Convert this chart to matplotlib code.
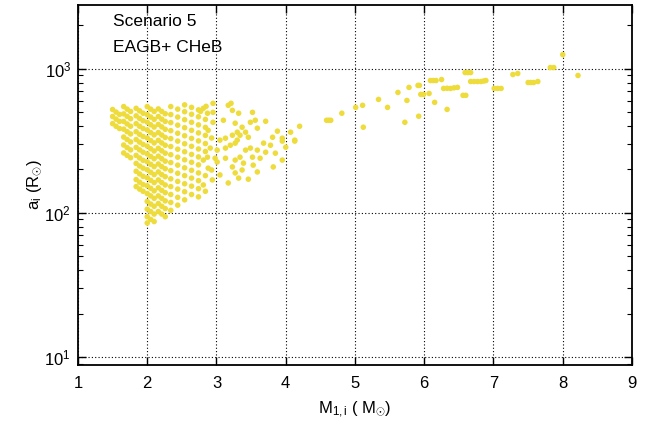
import matplotlib
matplotlib.use("Agg")
import matplotlib.pyplot as plt
from matplotlib.ticker import LogLocator, NullFormatter

plt.rcParams['font.family'] = ['Liberation Sans', 'DejaVu Sans']
plt.rcParams['mathtext.fontset'] = 'custom'
plt.rcParams['mathtext.rm'] = 'Liberation Sans'
plt.rcParams['mathtext.it'] = 'Liberation Sans'

# low-mass part: short streaks of nearly overlapping systems
m_streak = [1.50, 1.55, 1.60, 1.50, 1.55, 1.60, 1.50, 1.55, 1.60,
            1.66, 1.71, 1.76, 1.66, 1.71, 1.76, 1.66, 1.71, 1.76, 1.66, 1.71, 1.76,
            1.66, 1.71, 1.76, 1.66, 1.71, 1.76, 1.66, 1.71, 1.76,
            1.84, 1.89, 1.94, 1.84, 1.89, 1.94, 1.84, 1.89, 1.94, 1.84, 1.89, 1.94,
            1.84, 1.89, 1.94, 1.84, 1.89, 1.94, 1.84, 1.89, 1.94, 1.84, 1.89, 1.94,
            1.84, 1.89, 1.94, 1.84, 1.89, 1.94, 1.84, 1.89, 1.94,
            2.00, 2.05, 2.10, 2.00, 2.05, 2.10, 2.00, 2.05, 2.10, 2.00, 2.05, 2.10,
            2.00, 2.05, 2.10, 2.00, 2.05, 2.10, 2.00, 2.05, 2.10, 2.00, 2.05, 2.10,
            2.00, 2.05, 2.10, 2.00, 2.05, 2.10, 2.00, 2.05, 2.10, 2.00, 2.05, 2.10,
            2.00, 2.05, 2.10, 2.00, 2.05, 2.10, 2.00, 2.05, 2.10, 2.00,
            2.16, 2.21, 2.26, 2.16, 2.21, 2.26, 2.16, 2.21, 2.26, 2.16, 2.21, 2.26,
            2.16, 2.21, 2.26, 2.16, 2.21, 2.26, 2.16, 2.21, 2.26, 2.16, 2.21, 2.26,
            2.16, 2.21, 2.26, 2.16, 2.21, 2.26, 2.16, 2.21, 2.26, 2.16, 2.21, 2.26,
            2.16, 2.21, 2.26, 2.16, 2.21, 2.26]
a_streak = [520, 499, 481, 465, 446, 430, 415, 398, 384,
            545, 523, 504, 485, 466, 449, 430, 413, 398, 380, 365, 352,
            335, 322, 310, 295, 283, 273, 260, 250, 241,
            530, 509, 490, 470, 451, 435, 415, 398, 384, 365, 350, 338,
            322, 309, 298, 284, 273, 263, 250, 240, 231, 220, 211, 204,
            194, 186, 179, 170, 163, 157, 152, 146, 141,
            545, 523, 504, 480, 461, 444, 425, 408, 393, 375, 360, 347,
            330, 317, 305, 290, 278, 268, 256, 246, 237, 226, 217, 209,
            199, 191, 184, 175, 168, 162, 154, 148, 142, 136, 131, 126,
            120, 115, 111, 106, 102, 98, 94, 90, 87, 85,
            525, 504, 486, 465, 446, 430, 410, 394, 379, 360, 346, 333,
            318, 305, 294, 280, 269, 259, 247, 237, 228, 218, 209, 202,
            192, 184, 178, 169, 162, 156, 149, 143, 138, 131, 126, 121,
            116, 111, 107, 102, 98, 94]

# intermediate masses: separate dots
m_mid = [2.34] * 14 + [2.44] * 13 + [2.54] * 13 + [2.64] * 12 + [2.74] * 12
a_mid = [545, 480, 422, 371, 327, 288, 253, 223, 196, 172, 152, 134, 118, 104,
         523, 461, 405, 356, 314, 276, 243, 214, 188, 165, 146, 128, 113,
         560, 502, 442, 389, 342, 301, 265, 233, 205, 181, 159, 140, 123,
         538, 482, 424, 373, 328, 289, 254, 224, 197, 174, 153, 134,
         517, 463, 407, 358, 315, 277, 244, 215, 189, 167, 147, 129]

m_right = [2.81, 2.95, 3.17, 3.23, 3.10, 3.27, 2.95, 2.88, 3.05, 3.13, 3.23, 3.30,
           3.20, 3.27, 3.13, 3.01, 2.91, 2.87, 2.98, 3.13, 3.27, 3.01, 3.23, 3.27,
           3.05, 3.17, 3.32, 2.94, 2.81, 2.88, 2.81,
           3.32, 3.52, 3.37, 3.49, 3.56, 3.71, 3.88, 4.07, 4.20, 4.13, 3.95, 3.81,
           3.78, 3.68, 3.59, 3.46, 3.42, 3.34, 3.30, 3.42, 3.49, 3.59, 3.71, 3.85,
           4.00, 3.95, 3.63, 3.52, 3.34, 3.39, 3.37, 3.53, 3.59, 3.46, 3.82,
           3.21, 2.95, 2.85, 2.77, 2.87, 2.84, 2.84, 2.84, 2.84, 2.84, 2.84, 2.93,
           2.93, 2.84, 3.95, 4.13]
a_right = [530, 497, 556, 513, 438, 418, 424, 373, 319, 329, 345, 362,
           294, 304, 281, 272, 281, 243, 239, 239, 232, 225, 208, 189,
           183, 161, 174, 169, 156, 204, 232,
           490, 497, 392, 424, 438, 431, 368, 362, 398, 319, 329, 334,
           294, 304, 386, 334, 362, 345, 319, 272, 281, 272, 263, 259,
           285, 232, 239, 243, 243, 221, 198, 214, 192, 171, 208,
           574, 574, 547, 505, 490, 444, 391, 344, 302, 266, 181, 330,
           198, 141, 314, 314]

# high-mass tail
m_high = [4.59, 4.62, 4.65, 4.81, 5.01, 5.11, 5.12, 5.34, 5.47, 5.62, 5.72, 5.75,
          5.78, 5.91, 5.93, 5.92, 5.95, 5.99, 6.07, 6.09, 6.13, 6.17, 6.25, 6.15,
          6.33, 6.28, 6.33, 6.38, 6.43, 6.48, 6.56, 6.60, 6.59, 6.63, 6.67, 6.67,
          6.72, 6.77, 6.82, 6.86, 6.89, 7.01, 7.06, 7.11, 7.28, 7.35, 7.50, 7.54,
          7.58, 7.64, 7.82, 7.87, 8.00, 8.22]
a_high = [438, 438, 438, 490, 538, 556, 392, 611, 538, 683, 424, 601,
          740, 764, 764, 467, 662, 662, 672, 826, 826, 826, 839, 583,
          521, 728, 730, 728, 735, 740, 652, 652, 938, 938, 938, 813,
          813, 813, 813, 820, 826, 728, 728, 728, 909, 924, 800, 800,
          800, 813, 1016, 1016, 1249, 895]

x_ticks = [1, 2, 3, 4, 5, 6, 7, 8, 9]

fig = plt.figure(figsize=(6.58, 4.29), dpi=100)
ax = fig.add_axes([0.1185, 0.149, 0.842, 0.8395])

col = '#EEDC3C'
for mm, aa in [(m_streak, a_streak), (m_mid, a_mid), (m_right, a_right), (m_high, a_high)]:
    ax.scatter(mm, aa, s=16, color=col, edgecolors='none', zorder=3)

ax.set_yscale('log')
ax.set_xlim(1, 9)
ax.set_ylim(8.8, 2760)
ax.set_xticks(x_ticks)
ax.yaxis.set_major_locator(LogLocator(base=10, numticks=10))
ax.yaxis.set_minor_locator(LogLocator(base=10, subs=range(2, 10), numticks=10))
ax.yaxis.set_minor_formatter(NullFormatter())

ax.grid(True, which='major', color='black', linestyle=(0, (1, 2)), linewidth=0.8)
ax.tick_params(which='both', direction='in', top=True, right=True, labelsize=12, colors='black')
ax.tick_params(which='major', length=6, width=1)
ax.tick_params(axis='x', which='major', pad=8)
ax.tick_params(axis='y', which='major', pad=5)
ax.tick_params(which='minor', length=3.5, width=0.8)
for s in ax.spines.values():
    s.set_linewidth(1.3)

ax.set_xlabel(r'M$_{1,\mathrm{i}}$ ( M$_{\odot}$)', fontsize=12, labelpad=6)
ax.set_ylabel(r'a$_{\mathrm{i}}$ (R$_{\odot}$)', fontsize=12, labelpad=0)

ax.text(0.063, 0.953, 'Scenario 5', transform=ax.transAxes, fontsize=12.5, va='center', ha='left')
ax.text(0.063, 0.881, 'EAGB+ CHeB', transform=ax.transAxes, fontsize=12.5, va='center', ha='left')

fig.savefig('out.png', dpi=100)
